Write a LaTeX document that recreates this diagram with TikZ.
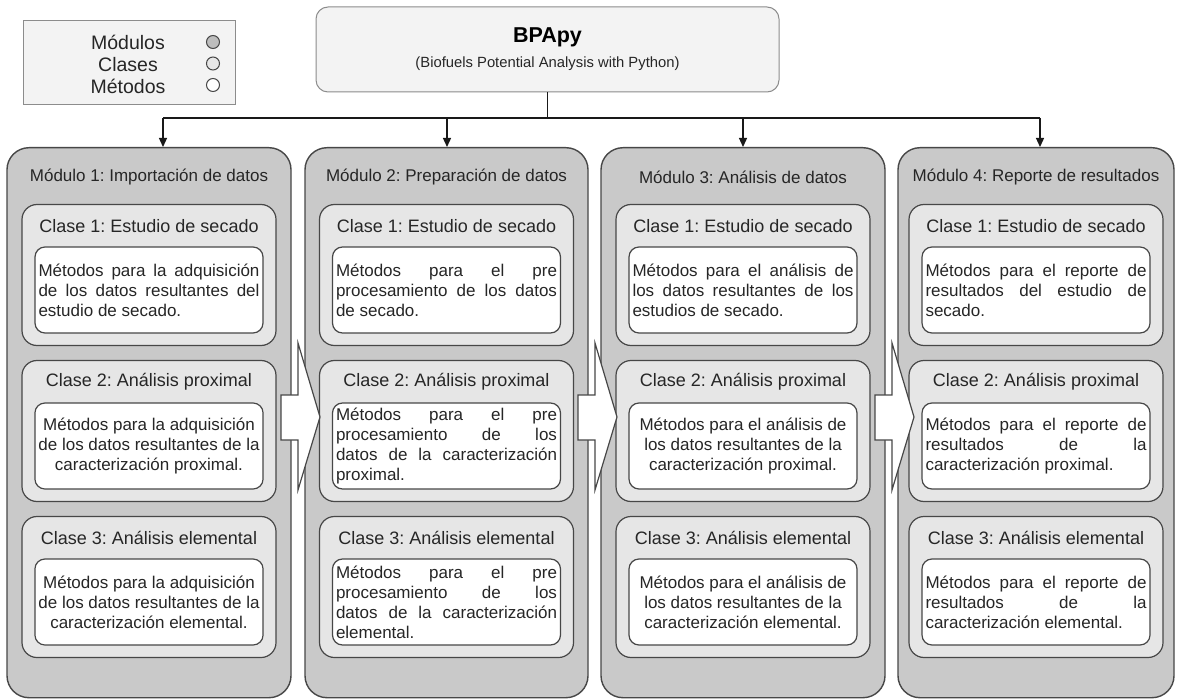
\documentclass[tikz,border=0pt]{standalone}
\usepackage{fontspec}
\setmainfont{Liberation Sans}
\usetikzlibrary{arrows.meta,positioning,calc}
\definecolor{ink}{HTML}{262626}
\definecolor{edge}{HTML}{474747}
\definecolor{modfill}{HTML}{C9C9C9}
\definecolor{clsfill}{HTML}{E6E6E6}
\definecolor{paper}{HTML}{F3F3F3}
\definecolor{softedge}{HTML}{8C8C8C}
\definecolor{dotgray}{HTML}{BDBDBD}
\newcommand{\jl}[1]{\makebox[221pt][s]{#1}}
\frenchspacing

\begin{document}
\begin{tikzpicture}[x=1pt,y=-1pt,
  >={Triangle[length=9pt,width=8pt]},
  module/.style={draw=edge,line width=1.4pt,fill=modfill,rounded corners=22pt,
                 minimum height=550pt,anchor=north,inner sep=0pt},
  clase/.style={draw=edge,line width=1.2pt,fill=clsfill,rounded corners=15pt,
                minimum width=254pt,minimum height=141pt,inner sep=0pt},
  metodo/.style={draw=edge,line width=1.2pt,fill=white,rounded corners=10pt,
                 minimum width=228pt,minimum height=86pt,inner sep=3.5pt,
                 font=\fontsize{17}{20}\selectfont,text=ink},
  modhead/.style={font=\fontsize{17}{20}\selectfont,text=ink},
  clshead/.style={font=\fontsize{18}{20}\selectfont,text=ink},
  link/.style={draw=black!90,line width=1.3pt},
  blockarrow/.style={draw=edge,line width=1.2pt,fill=white,line join=miter},
  legdot/.style={circle,draw=edge,line width=1pt,minimum size=13pt,inner sep=0pt}
]
\useasboundingbox[fill=white] (0,0) rectangle (1177,700);

% legend
\node[draw=softedge,line width=1pt,fill=paper,minimum width=212pt,minimum height=84pt] (legend) at (129,63) {};
\node[align=center,font=\fontsize{19.5}{22}\selectfont,text=ink] (legtxt) at (128,64) {Módulos\\Clases\\Métodos};
\node[legdot,fill=dotgray] (dotmod) at (213,42) {};
\node[legdot,fill=clsfill] (dotcls) at (213,63.5) {};
\node[legdot,fill=white] (dotmet) at (213,85) {};

% title
\node[draw=softedge,line width=1pt,fill=paper,rounded corners=12pt,minimum width=463pt,minimum height=85pt] (bpapy) at (547.5,49.5) {};
\node[font=\fontsize{21.5}{24}\selectfont\bfseries,text=black] (bpname) at (547.5,37) {BPApy};
\node[font=\fontsize{14.8}{17}\selectfont,text=ink] (bpsub) at (547.5,64) {(Biofuels Potential Analysis with Python)};

% modules and classes
\foreach \i/\cx/\w/\ax/\mname in {1/149/284/163/Módulo 1: Importación de datos,
                                  2/446.5/283/447/Módulo 2: Preparación de datos,
                                  3/743/284/743/Módulo 3: Análisis de datos,
                                  4/1036/276/1040/Módulo 4: Reporte de resultados}{
  \node[module,minimum width=\w pt] (mod\i) at (\cx,147) {};
  \node[modhead] (mhead\i) at (\cx,177) {\mname};
  \coordinate (b\i) at (\ax,118);
  \foreach \j/\cname in {1/Clase 1: Estudio de secado,
                         2/Clase 2: Análisis proximal,
                         3/Clase 3: Análisis elemental}{
    \node[clase] (cls\i\j) at (\cx,{275+156*(\j-1)}) {};
    \node[clshead] (chead\i\j) at ($(cls\i\j.north)+(0,22)$) {\cname};
  }
}

% methods
\node[metodo,align=left] (met11) at ($(cls11)+(0,15)$) {\jl{Métodos para la adquisición}\\\jl{de los datos resultantes del}\\estudio de secado.};
\node[metodo,align=center] (met12) at ($(cls12)+(0,15)$) {Métodos para la adquisición\\de los datos resultantes de la\\caracterización proximal.};
\node[metodo,align=center] (met13) at ($(cls13)+(0,15)$) {Métodos para la adquisición\\de los datos resultantes de la\\caracterización elemental.};

\node[metodo,align=left] (met21) at ($(cls21)+(0,15)$) {\jl{Métodos para el pre}\\\jl{procesamiento de los datos}\\de secado.};
\node[metodo,align=left] (met22) at ($(cls22)+(0,15)$) {\jl{Métodos para el pre}\\\jl{procesamiento de los}\\\jl{datos de la caracterización}\\proximal.};
\node[metodo,align=left] (met23) at ($(cls23)+(0,15)$) {\jl{Métodos para el pre}\\\jl{procesamiento de los}\\\jl{datos de la caracterización}\\elemental.};

\node[metodo,align=left] (met31) at ($(cls31)+(0,15)$) {\jl{Métodos para el análisis de}\\\jl{los datos resultantes de los}\\estudios de secado.};
\node[metodo,align=center] (met32) at ($(cls32)+(0,15)$) {Métodos para el análisis de\\los datos resultantes de la\\caracterización proximal.};
\node[metodo,align=center] (met33) at ($(cls33)+(0,15)$) {Métodos para el análisis de\\los datos resultantes de la\\caracterización elemental.};

\node[metodo,align=left] (met41) at ($(cls41)+(0,15)$) {\jl{Métodos para el reporte de}\\\jl{resultados del estudio de}\\secado.};
\node[metodo,align=left] (met42) at ($(cls42)+(0,15)$) {\jl{Métodos para el reporte de}\\\jl{resultados de la}\\caracterización proximal.};
\node[metodo,align=left] (met43) at ($(cls43)+(0,15)$) {\jl{Métodos para el reporte de}\\\jl{resultados de la}\\caracterización elemental.};

% flow between modules
\foreach \r in {291,588,885}
  \draw[blockarrow] (\r-10,395) -- (\r+7,395) -- (\r+7,343) -- (\r+29,417)
                    -- (\r+7,490) -- (\r+7,440) -- (\r-10,440) -- cycle;

% tree from the title
\coordinate (bus) at (547.5,118);
\draw[link] (bpapy.south) -- (bus);
\draw[link] (b1) -- (b4);
\foreach \i in {1,...,4}
  \draw[link,->] (b\i) -- (b\i |- mod\i.north);
\end{tikzpicture}
\end{document}
